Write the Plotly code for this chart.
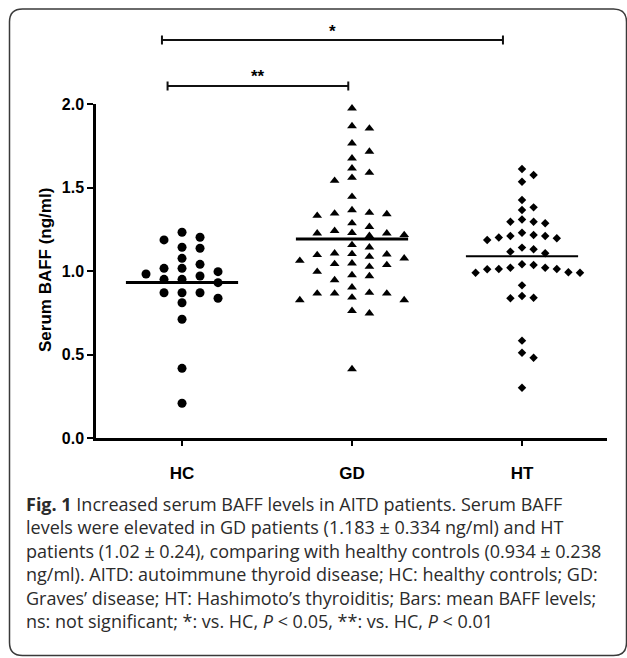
import numpy as np
import plotly.graph_objects as go

# ---------------- data ----------------
categories = ["HC", "GD", "HT"]

hc_values = [1.232, 1.202, 1.186, 1.142, 1.136, 1.076, 1.040, 1.016, 1.016, 0.996,
             0.982, 0.970, 0.950, 0.950, 0.930, 0.870, 0.870, 0.870, 0.837, 0.810,
             0.711, 0.417, 0.208]

gd_values = [1.974, 1.868, 1.854, 1.765, 1.715, 1.675, 1.615, 1.589, 1.559, 1.541,
             1.445, 1.365, 1.349, 1.345, 1.341, 1.331, 1.286, 1.265, 1.241, 1.229,
             1.226, 1.226, 1.216, 1.211, 1.156, 1.142, 1.106, 1.102, 1.100, 1.096,
             1.086, 1.076, 1.062, 1.046, 1.042, 1.036, 1.026, 0.996, 0.976, 0.970,
             0.946, 0.902, 0.870, 0.866, 0.866, 0.866, 0.842, 0.826, 0.826, 0.762,
             0.747, 0.413]

ht_values = [1.611, 1.575, 1.535, 1.425, 1.381, 1.365, 1.309, 1.295, 1.295, 1.286,
             1.229, 1.216, 1.210, 1.210, 1.200, 1.196, 1.186, 1.140, 1.130, 1.116,
             1.106, 1.040, 1.036, 1.020, 1.020, 1.012, 1.012, 1.010, 0.992, 0.990,
             0.990, 0.914, 0.850, 0.840, 0.837, 0.583, 0.511, 0.481, 0.301]

y_tick_values = [0.0, 0.5, 1.0, 1.5, 2.0]
y_tick_labels = ["0.0", "0.5", "1.0", "1.5", "2.0"]
y_axis_title = "Serum BAFF (ng/ml)"

comparison_labels = ["*", "**"]

caption_lines = [
    "<b>Fig. 1</b> Increased serum BAFF levels in AITD patients. Serum BAFF",
    "levels were elevated in GD patients (1.183 ± 0.334 ng/ml) and HT",
    "patients (1.02 ± 0.24), comparing with healthy controls (0.934 ± 0.238",
    "ng/ml). AITD: autoimmune thyroid disease; HC: healthy controls; GD:",
    "Graves’ disease; HT: Hashimoto’s thyroiditis; Bars: mean BAFF levels;",
    "ns: not significant; *: vs. HC, <i>P</i> < 0.05, **: vs. HC, <i>P</i> < 0.01",
]

# ---------------- layout geometry (pixels) ----------------
W, H = 627, 658
L, R, T, B = 96, 607, 104, 438
X_RANGE = [-0.506, 2.5]
Y_RANGE = [0.0, 2.0]
PX_PER_X = (R - L) / (X_RANGE[1] - X_RANGE[0])
PX_PER_Y = (B - T) / (Y_RANGE[1] - Y_RANGE[0])


def px_x(p):
    return (p - L) / (R - L)


def px_y(p):
    return (B - p) / (B - T)


def swarm(values, spacing_px, min_dy_px):
    vals = np.asarray(values, dtype=float)
    order = np.argsort(-vals, kind="stable")
    placed = {}
    offsets = np.zeros(len(vals))
    for i in order:
        y = vals[i] * PX_PER_Y
        n = 0
        while True:
            slot = 0 if n == 0 else ((n + 1) // 2) * (1 if n % 2 else -1)
            if all(abs(y - yy) >= min_dy_px for yy in placed.get(slot, [])):
                break
            n += 1
        placed.setdefault(slot, []).append(y)
        offsets[i] = slot * spacing_px / PX_PER_X
    return offsets


groups = [
    dict(values=hc_values, symbol="circle", size=9, spacing=18.0, dy=10.0, mean_w=3.0),
    dict(values=gd_values, symbol="triangle-up", size=8.5, spacing=17.4, dy=8.5, mean_w=3.0),
    dict(values=ht_values, symbol="diamond", size=6.5, spacing=11.6, dy=8.5, mean_w=2.0),
]

fig = go.Figure()

for idx, g in enumerate(groups):
    offs = swarm(g["values"], g["spacing"], g["dy"])
    fig.add_trace(go.Scatter(
        x=idx + offs, y=g["values"], mode="markers",
        marker=dict(symbol=g["symbol"], size=g["size"], color="black",
                    line=dict(width=0)),
        hoverinfo="y", showlegend=False, cliponaxis=False,
    ))
    m = float(np.mean(g["values"]))
    fig.add_trace(go.Scatter(
        x=[idx - 0.33, idx + 0.33], y=[m, m], mode="lines",
        line=dict(color="black", width=g["mean_w"]),
        hoverinfo="skip", showlegend=False,
    ))

# significance brackets
brackets = [
    dict(x0=0 - 0.118, x1=2 - 0.112, ypx=40, label=comparison_labels[0], lpx=31),
    dict(x0=0 - 0.085, x1=1 - 0.022, ypx=86, label=comparison_labels[1], lpx=76),
]
shapes = []
annotations = []
for b in brackets:
    yb = px_y(b["ypx"])
    tick = 4.5 / (B - T)
    shapes.append(dict(type="line", xref="x", yref="paper", x0=b["x0"], x1=b["x1"],
                       y0=yb, y1=yb, line=dict(color="#111111", width=2)))
    for xe in (b["x0"], b["x1"]):
        shapes.append(dict(type="line", xref="x", yref="paper", x0=xe, x1=xe,
                           y0=yb - tick, y1=yb + tick, line=dict(color="#111111", width=2)))
    annotations.append(dict(
        x=(b["x0"] + b["x1"]) / 2, y=px_y(b["lpx"]), xref="x", yref="paper",
        text="<b>" + b["label"] + "</b>", showarrow=False, yanchor="middle",
        font=dict(family="Liberation Sans, Arial, sans-serif", size=17, color="black"),
    ))

# y-axis title
annotations.append(dict(
    x=px_x(45), y=px_y(270), xref="paper", yref="paper", text="<b>" + y_axis_title + "</b>",
    textangle=-90, showarrow=False, xanchor="center", yanchor="middle",
    font=dict(family="Liberation Sans, Arial, sans-serif", size=17, color="black"),
))

# caption (one multi-line text block)
annotations.append(dict(
    x=px_x(24), y=px_y(562), xref="paper", yref="paper", text="<br>".join(caption_lines),
    showarrow=False, xanchor="left", yanchor="middle", align="left",
    font=dict(family="Open Sans, Noto Sans, sans-serif", size=18, color="#2b2b2b"),
))

# rounded frame
fl, fr, ft, fb, rad = 9.5, 626.5, 9.0, 655.5, 13.0
X = lambda p: px_x(p)
Y = lambda p: px_y(p)
path = (
    f"M {X(fl)},{Y(ft + rad)} Q {X(fl)},{Y(ft)} {X(fl + rad)},{Y(ft)} "
    f"L {X(fr - rad)},{Y(ft)} Q {X(fr)},{Y(ft)} {X(fr)},{Y(ft + rad)} "
    f"L {X(fr)},{Y(fb - rad)} Q {X(fr)},{Y(fb)} {X(fr - rad)},{Y(fb)} "
    f"L {X(fl + rad)},{Y(fb)} Q {X(fl)},{Y(fb)} {X(fl)},{Y(fb - rad)} Z"
)
shapes.append(dict(type="path", xref="paper", yref="paper", path=path,
                   line=dict(color="#3a3a3a", width=1.5), layer="below"))

fig.update_layout(
    width=W, height=H,
    margin=dict(l=L, r=W - R, t=T, b=H - B, pad=0),
    paper_bgcolor="white", plot_bgcolor="white",
    shapes=shapes, annotations=annotations,
    xaxis=dict(
        range=X_RANGE, tickmode="array", tickvals=[0, 1, 2], ticktext=categories,
        showgrid=False, zeroline=False, showline=True, linecolor="black", linewidth=2.5,
        ticks="outside", ticklen=5, tickwidth=2, tickcolor="black",
        ticklabelstandoff=13,
        tickfont=dict(family="Liberation Sans, Arial, sans-serif", size=17,
                      color="black", weight="bold"),
    ),
    yaxis=dict(
        range=Y_RANGE, tickmode="array", tickvals=y_tick_values, ticktext=y_tick_labels,
        showgrid=False, zeroline=False, showline=True, linecolor="black", linewidth=2.5,
        ticks="outside", ticklen=6, tickwidth=2, tickcolor="black",
        tickfont=dict(family="Liberation Sans, Arial, sans-serif", size=16,
                      color="black", weight="bold"),
    ),
)

fig.write_html("out.html", config={"displayModeBar": False},
               post_script="document.body.style.margin='0px';")
